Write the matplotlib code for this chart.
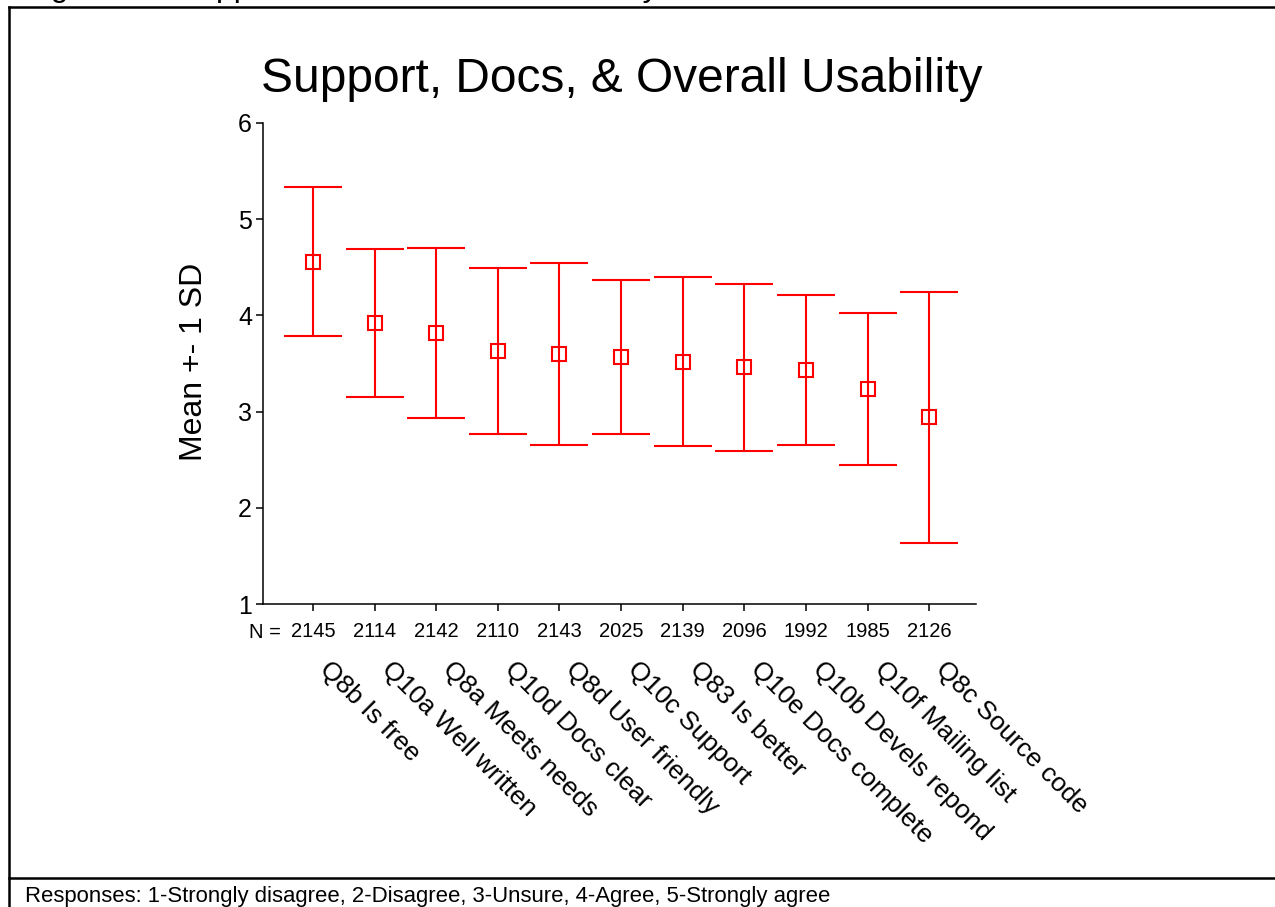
import matplotlib
matplotlib.use('Agg')
import matplotlib.pyplot as plt
from matplotlib import font_manager
from matplotlib.transforms import offset_copy
from matplotlib.lines import Line2D

# ---------------- data ----------------
title = "Support, Docs, & Overall Usability"
header_text = "Figure 14: Support, Docs, & Overall Usability"
caption = "Responses: 1-Strongly disagree, 2-Disagree, 3-Unsure, 4-Agree, 5-Strongly agree"
y_label = "Mean +- 1 SD"
categories = ["Q8b Is free", "Q10a Well written", "Q8a Meets needs", "Q10d Docs clear",
              "Q8d User friendly", "Q10c Support", "Q83 Is better", "Q10e Docs complete",
              "Q10b Devels repond", "Q10f Mailing list", "Q8c Source code"]
n_values = [2145, 2114, 2142, 2110, 2143, 2025, 2139, 2096, 1992, 1985, 2126]
means = [4.56, 3.92, 3.82, 3.63, 3.60, 3.57, 3.52, 3.46, 3.43, 3.23, 2.94]
sds = [0.775, 0.767, 0.885, 0.865, 0.945, 0.802, 0.875, 0.865, 0.78, 0.79, 1.305]
y_ticks = [1, 2, 3, 4, 5, 6]

# ---------------- fonts ----------------
names = {f.name for f in font_manager.fontManager.ttflist}
REG = 'Liberation Sans' if 'Liberation Sans' in names else 'DejaVu Sans'
if 'Liberation Sans Narrow' in names:
    NAR, nscale = 'Liberation Sans Narrow', 1.0
else:
    NAR, nscale = REG, 0.84
plt.rcParams['font.family'] = [REG, 'DejaVu Sans']

W, H = 1275, 907
fig = plt.figure(figsize=(W / 100, H / 100), dpi=100)
fig.patch.set_facecolor('white')

def fx(px):
    return px / W

def fy(py):
    return 1 - py / H

ax = fig.add_axes([fx(263), fy(604), fx(976) - fx(263), fy(123) - fy(604)])
x = list(range(len(categories)))
red = '#ff0000'
ax.errorbar(x, means, yerr=sds, fmt='s', color=red, ecolor=red,
            elinewidth=1.5, capsize=21, capthick=1.5,
            markersize=10, markerfacecolor='none', markeredgecolor=red,
            markeredgewidth=1.5, zorder=3)

ax.set_xlim(-0.81, 10.76)
ax.set_ylim(1, 6)
ax.set_yticks(y_ticks)
ax.set_yticklabels([str(t) for t in y_ticks], fontsize=18, family=REG)
ax.set_xticks(x)
ax.set_xticklabels([str(n) for n in n_values], fontsize=14.5, family=REG)
ax.tick_params(axis='y', direction='out', length=5, width=1.1, pad=3, colors='black')
ax.tick_params(axis='x', direction='out', length=5, width=1.1, pad=8, colors='black')
for s in ['top', 'right']:
    ax.spines[s].set_visible(False)
for s in ['left', 'bottom']:
    ax.spines[s].set_linewidth(1.1)
    ax.spines[s].set_color('black')
ax.spines['left'].set_bounds(1, 6)
ax.set_facecolor('white')

# "N =" before the counts
fig.text(fx(281), fy(638), "N =", ha='right', va='baseline', fontsize=14.5, family=REG)

# rotated category labels
trans = offset_copy(ax.get_xaxis_transform(), fig=fig, x=19, y=-53, units='dots')
for xi, lab in zip(x, categories):
    ax.text(xi, 0, lab, transform=trans, rotation=-45, rotation_mode='anchor',
            ha='left', va='top', fontsize=19, family=REG, clip_on=False)

# y label
fig.text(fx(194), fy(362), y_label, rotation=90, ha='center', va='center',
         fontsize=23, family=REG)

# title
fig.text(fx(622), fy(92), title, ha='center', va='baseline',
         fontsize=41 * nscale, family=NAR)

# truncated header at the very top (only its descenders show, as in the reference)
fig.text(fx(24), fy(-4), header_text, ha='left', va='baseline', fontsize=23, family=REG)

# caption
fig.text(fx(25), fy(902), caption, ha='left', va='baseline', fontsize=19 * nscale, family=NAR)

# frame lines
lw = 1.8
fig.add_artist(Line2D([fx(9), 1], [fy(7), fy(7)], transform=fig.transFigure, color='black', lw=lw))
fig.add_artist(Line2D([fx(9), fx(9)], [0, fy(7)], transform=fig.transFigure, color='black', lw=lw))
fig.add_artist(Line2D([fx(9), 1], [fy(878), fy(878)], transform=fig.transFigure, color='black', lw=lw))

fig.savefig('out.png', dpi=100, facecolor='white')
